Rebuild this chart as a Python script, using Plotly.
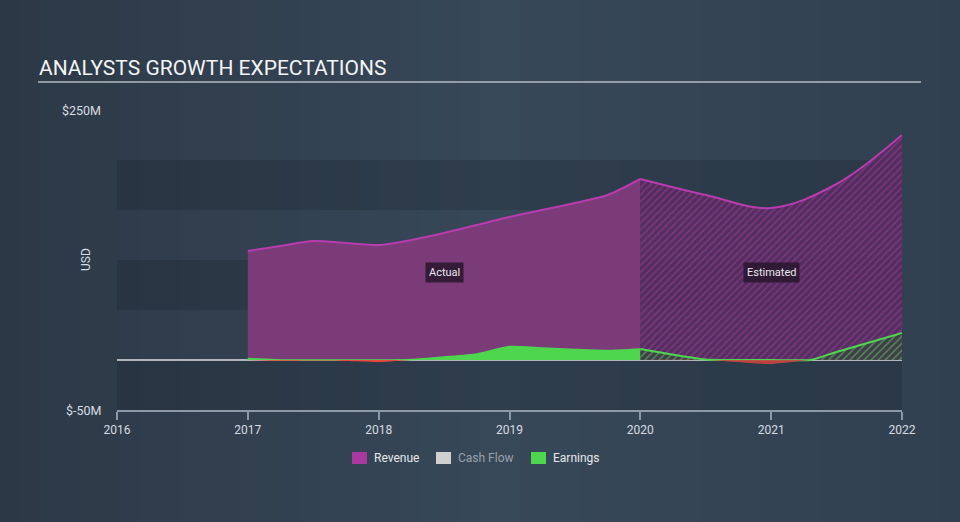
import plotly.graph_objects as go

# ---- data ----
actual_years = [2017.0, 2017.25, 2017.5, 2017.75, 2018.0, 2018.25, 2018.5, 2018.75,
                2019.0, 2019.25, 2019.5, 2019.75, 2020.0]
actual_revenue = [109, 114, 119, 117, 115, 120, 127, 135, 143, 150, 157, 165, 181]
actual_earnings = [1.5, -0.8, -0.5, -1.0, -2.0, 0.5, 3.0, 6.0, 13.5, 12.0, 10.5, 9.5, 11.0]

est_years = [2020.0, 2020.5, 2021.0, 2021.5, 2022.0]
est_revenue = [181, 165, 152, 176, 225]
est_years_e = [2020.0, 2020.5, 2021.0, 2021.3, 2021.5, 2022.0]
est_earnings = [11, 0.5, -4, 0, 8, 27]

x_ticks = [2016, 2017, 2018, 2019, 2020, 2021, 2022]
y_tick_vals = [250, -50]
y_tick_text = ["$250M", "$-50M"]
legend_items = ["Revenue", "Cash Flow", "Earnings"]

# ---- colours ----
BG = "#334354"
BAND = "rgba(20,28,38,0.22)"
REV_LINE = "#b93cae"
REV_FILL = "#7b3a78"
GREEN = "#4fd64f"
RED = "#e8483e"

W, H = 960, 522
L, R, T, B = 117, 58, 110, 112
PW, PH = W - L - R, H - T - B


def px(x):
    return (x - L) / PW


def py(y):
    return (H - B - y) / PH


fig = go.Figure()

# Revenue actual
fig.add_trace(go.Scatter(x=actual_years, y=actual_revenue, mode="lines",
                         line=dict(color=REV_LINE, width=2, shape="spline", smoothing=0.7),
                         fill="tozeroy", fillcolor=REV_FILL, hoverinfo="skip", showlegend=False))
# Revenue estimated (hatched)
fig.add_trace(go.Scatter(x=est_years, y=est_revenue, mode="lines",
                         line=dict(color=REV_LINE, width=2, shape="spline", smoothing=1.0),
                         fill="tozeroy", fillcolor="rgba(95,45,100,0.8)",
                         fillpattern=dict(shape="/", fgcolor="rgba(190,60,178,0.85)",
                                          bgcolor="rgba(88,44,96,0.85)", size=5, solidity=0.3),
                         hoverinfo="skip", showlegend=False))

# Earnings actual
a_pos = [max(v, 0) for v in actual_earnings]
a_neg = [min(v, 0) for v in actual_earnings]
fig.add_trace(go.Scatter(x=actual_years, y=a_pos, mode="lines",
                         line=dict(color=GREEN, width=1.5, shape="spline", smoothing=0.6),
                         fill="tozeroy", fillcolor=GREEN, hoverinfo="skip", showlegend=False))
fig.add_trace(go.Scatter(x=actual_years, y=a_neg, mode="lines",
                         line=dict(color=RED, width=0, shape="spline", smoothing=0.6),
                         fill="tozeroy", fillcolor=RED, hoverinfo="skip", showlegend=False))

# Earnings estimated (hatched)
e_pos = [max(v, 0) for v in est_earnings]
e_neg = [min(v, 0) for v in est_earnings]
fig.add_trace(go.Scatter(x=est_years_e, y=e_pos, mode="lines",
                         line=dict(color=GREEN, width=2, shape="spline", smoothing=0.5),
                         fill="tozeroy", fillcolor="rgba(60,80,70,0.6)",
                         fillpattern=dict(shape="/", fgcolor=GREEN, bgcolor="rgba(50,70,60,0.6)",
                                          size=5, solidity=0.3),
                         hoverinfo="skip", showlegend=False))
fig.add_trace(go.Scatter(x=est_years_e, y=e_neg, mode="lines",
                         line=dict(color=RED, width=0, shape="spline", smoothing=0.5),
                         fill="tozeroy", fillcolor="rgba(200,70,65,0.9)",
                         hoverinfo="skip", showlegend=False))

shapes = []
# subtle horizontal background gradient
strips = 48
for i in range(strips):
    t = (i + 0.5) / strips
    if t < 0.52:
        f = t / 0.52
        c0, c1 = (44, 56, 70), (55, 72, 89)
    else:
        f = (t - 0.52) / 0.48
        c0, c1 = (55, 72, 89), (49, 64, 80)
    col = tuple(int(round(a + (b - a) * f)) for a, b in zip(c0, c1))
    shapes.append(dict(type="rect", xref="paper", yref="paper",
                       x0=px(i * W / strips), x1=px((i + 1) * W / strips + 0.5),
                       y0=py(H), y1=py(0), fillcolor="rgb(%d,%d,%d)" % col,
                       line=dict(width=0), layer="below"))
# horizontal bands
for y0, y1 in [(-50, 0), (50, 100), (150, 200)]:
    shapes.append(dict(type="rect", xref="paper", yref="y", x0=0, x1=1, y0=y0, y1=y1,
                       fillcolor=BAND, line=dict(width=0), layer="below"))
# zero line
shapes.append(dict(type="line", xref="paper", yref="y", x0=0, x1=1, y0=0, y1=0,
                   line=dict(color="#dcdfe3", width=1.5), layer="below"))
# title underline
shapes.append(dict(type="line", xref="paper", yref="paper", x0=px(38), x1=px(921),
                   y0=py(82), y1=py(82), line=dict(color="#b4bac2", width=1.5)))

annotations = [
    dict(text="ANALYSTS GROWTH EXPECTATIONS", xref="paper", yref="paper", x=px(37), y=py(68),
         xanchor="left", yanchor="middle", showarrow=False,
         font=dict(family="Roboto", size=21, color="#f2f4f6")),
    dict(text="USD", xref="paper", yref="paper", x=px(86), y=py(260), textangle=-90,
         xanchor="center", yanchor="middle", showarrow=False,
         font=dict(family="Roboto", size=12, color="#d8dce0")),
    dict(text="Actual", x=2018.5, y=88, xref="x", yref="y", showarrow=False,
         bgcolor="rgba(40,22,45,0.85)", borderpad=3,
         font=dict(family="Roboto", size=11, color="#e8e8ec")),
    dict(text="Estimated", x=2021.0, y=88, xref="x", yref="y", showarrow=False,
         bgcolor="rgba(40,22,45,0.85)", borderpad=3,
         font=dict(family="Roboto", size=11, color="#e8e8ec")),
]
for v, t in zip(y_tick_vals, y_tick_text):
    annotations.append(dict(text=t, xref="paper", yref="y", x=px(103), y=v,
                            xanchor="right", yanchor="middle", showarrow=False,
                            font=dict(family="Roboto", size=12.5, color="#d8dce0")))

# manual legend
legend_colors = ["#a9389f", "#d0d0d0", GREEN]
legend_text_colors = ["#e6e8ea", "#9aa2ab", "#e6e8ea"]
legend_x = [352, 436, 531]
for name, col, tcol, lx in zip(legend_items, legend_colors, legend_text_colors, legend_x):
    shapes.append(dict(type="rect", xref="paper", yref="paper", x0=px(lx), x1=px(lx + 15),
                       y0=py(464), y1=py(452), fillcolor=col, line=dict(width=0)))
    annotations.append(dict(text=name, xref="paper", yref="paper", x=px(lx + 20), y=py(458),
                            xanchor="left", yanchor="middle", showarrow=False,
                            font=dict(family="Roboto", size=12, color=tcol)))

fig.update_layout(
    width=W, height=H,
    margin=dict(l=L, r=R, t=T, b=B),
    paper_bgcolor=BG, plot_bgcolor="rgba(0,0,0,0)",
    showlegend=False,
    shapes=shapes, annotations=annotations,
    xaxis=dict(range=[2016, 2022], tickvals=x_ticks, ticktext=[str(v) for v in x_ticks],
               showgrid=False, zeroline=False, showline=True, linecolor="#8e99a7", linewidth=1.5,
               ticks="outside", ticklen=8, tickcolor="#8e99a7", tickwidth=1.5,
               tickfont=dict(family="Roboto", size=12, color="#d8dce0"), fixedrange=True),
    yaxis=dict(range=[-50, 250], showgrid=False, zeroline=False, showticklabels=False,
               showline=False, fixedrange=True),
)

fig.write_html("out.html")
